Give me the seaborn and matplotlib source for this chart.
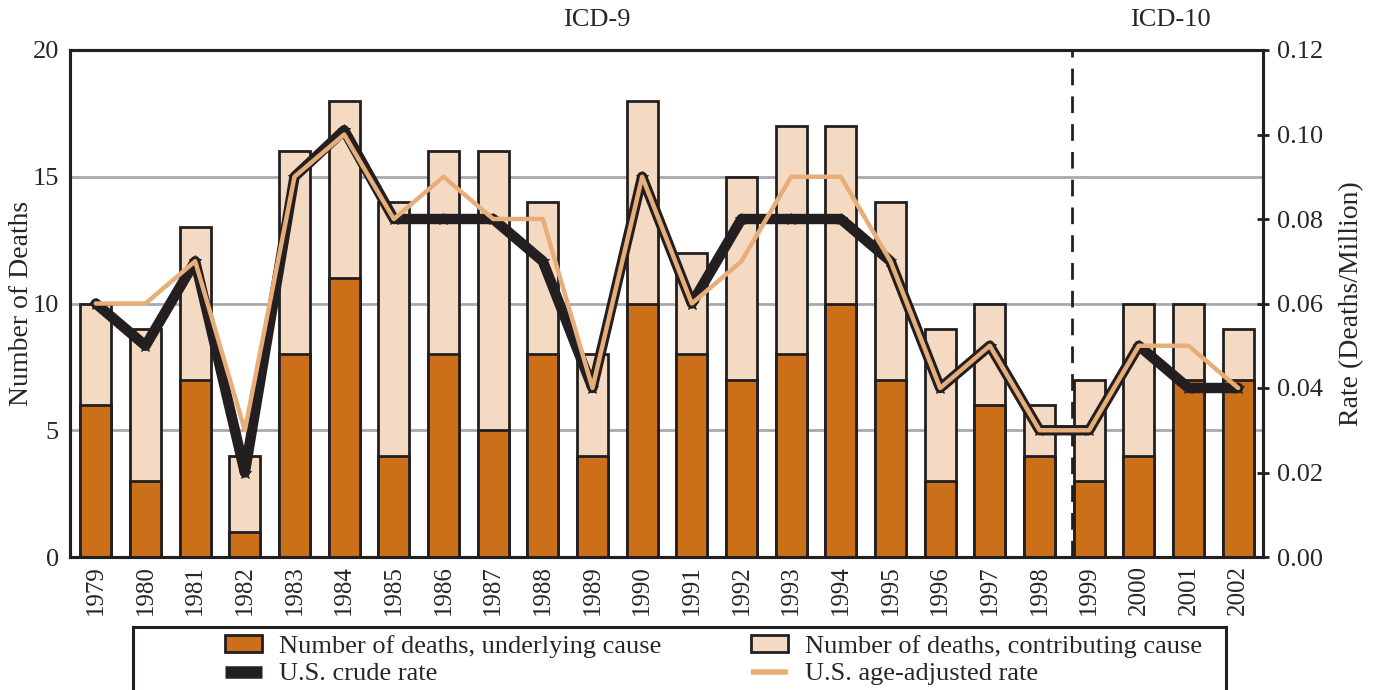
import numpy as np
import pandas as pd
import matplotlib.pyplot as plt
import seaborn as sns
from matplotlib.patches import Patch, Rectangle
from matplotlib.lines import Line2D

# Data
years = [str(y) for y in range(1979, 2003)]
total_deaths = [10, 9, 13, 4, 16, 18, 14, 16, 16, 14, 8, 18, 12, 15, 17, 17, 14, 9, 10, 6, 7, 10, 10, 9]
underlying = [6, 3, 7, 1, 8, 11, 4, 8, 5, 8, 4, 10, 8, 7, 8, 10, 7, 3, 6, 4, 3, 4, 7, 7]
crude_rate = [0.06, 0.05, 0.07, 0.02, 0.09, 0.101, 0.08, 0.08, 0.08, 0.07, 0.04, 0.09, 0.06, 0.08,
              0.08, 0.08, 0.07, 0.04, 0.05, 0.03, 0.03, 0.05, 0.04, 0.04]
adj_rate = [0.06, 0.06, 0.07, 0.03, 0.09, 0.10, 0.08, 0.09, 0.08, 0.08, 0.04, 0.09, 0.06, 0.07,
            0.09, 0.09, 0.07, 0.04, 0.05, 0.03, 0.03, 0.05, 0.05, 0.04]

c_under = "#CC6F19"
c_contrib = "#F5DAC3"
c_adj = "#E8AE7A"
c_black = "#231F20"

df = pd.DataFrame({"year": years, "total": total_deaths, "under": underlying})

sns.set_style("white")
plt.rcParams["font.family"] = ["Liberation Serif", "DejaVu Serif"]

fig = plt.figure(figsize=(13.77, 6.9), dpi=100)
ax = fig.add_axes([70 / 1377, 1 - 557 / 690, (1263 - 70) / 1377, (557 - 50) / 690])

# horizontal grid lines
for g in [5, 10, 15]:
    ax.axhline(g, color="#A7A9AC", lw=2, zorder=0)

sns.barplot(data=df, x="year", y="total", color=c_contrib, edgecolor=c_black,
            linewidth=2, width=0.63, saturation=1, ax=ax, zorder=2)
sns.barplot(data=df, x="year", y="under", color=c_under, edgecolor=c_black,
            linewidth=2, width=0.63, saturation=1, ax=ax, zorder=3)

ax.set_xlim(-0.52, 23.5)
ax.set_ylim(0, 20)
ax.set_yticks([0, 5, 10, 15, 20])
ax.set_xlabel("")
ax.set_ylabel("Number of Deaths", fontsize=20)
ax.yaxis.set_label_coords(-0.030, 0.5)
ax.tick_params(axis="y", labelsize=19, length=0, pad=8)
ax.tick_params(axis="x", labelsize=18, length=0, rotation=90, pad=6)
for s in ax.spines.values():
    s.set_color(c_black)
    s.set_linewidth(2.2)

ax2 = ax.twinx()
pos = np.arange(len(years))
sns.lineplot(x=pos, y=crude_rate, color=c_black, lw=7.5, ax=ax2, zorder=4,
             marker="*", markersize=9, markeredgecolor=c_black)
sns.lineplot(x=pos, y=adj_rate, color=c_adj, lw=3.2, ax=ax2, zorder=5)
ax2.set_ylim(0, 0.12)
ax2.set_yticks([0, 0.02, 0.04, 0.06, 0.08, 0.10, 0.12])
ax2.set_yticklabels(["0.00", "0.02", "0.04", "0.06", "0.08", "0.10", "0.12"])
ax2.tick_params(axis="y", labelsize=19, direction="inout", length=8, width=2, color=c_black, pad=6)
ax2.set_ylabel("Rate (Deaths/Million)", fontsize=20)
ax2.yaxis.set_label_coords(1.064, 0.5)
for s in ax2.spines.values():
    s.set_color(c_black)
    s.set_linewidth(2.2)
ax2.grid(False)

# ICD transition
ax.axvline(19.66, ymin=0, ymax=1, color=c_black, lw=2, ls=(0, (6, 4)), zorder=6)
fig.text(597 / 1377, 1 - 20 / 690, "ICD-9", ha="center", va="center", fontsize=19)
fig.text(1170 / 1377, 1 - 20 / 690, "ICD-10", ha="center", va="center", fontsize=19)

# legend
fig.patches.append(Rectangle((133 / 1377, -0.05), (1226 - 133) / 1377, 0.05 + (690 - 627) / 690,
                             transform=fig.transFigure, fill=False, edgecolor=c_black, lw=2.2))
handles = [
    Patch(facecolor=c_under, edgecolor=c_black, lw=2, label="Number of deaths, underlying cause"),
    Line2D([], [], color=c_black, lw=9, solid_capstyle="butt", label="U.S. crude rate"),
    Patch(facecolor=c_contrib, edgecolor=c_black, lw=2, label="Number of deaths, contributing cause"),
    Line2D([], [], color=c_adj, lw=4, solid_capstyle="butt", label="U.S. age-adjusted rate"),
]
fig.legend(handles=handles, ncol=2, loc="upper left",
           bbox_to_anchor=(225 / 1377, 1 - 635 / 690), frameon=False, fontsize=19,
           handlelength=1.4, handleheight=0.6, handletextpad=0.65, columnspacing=3.4,
           labelspacing=0.18, borderpad=0, borderaxespad=0)

fig.savefig("out.png", dpi=100)
